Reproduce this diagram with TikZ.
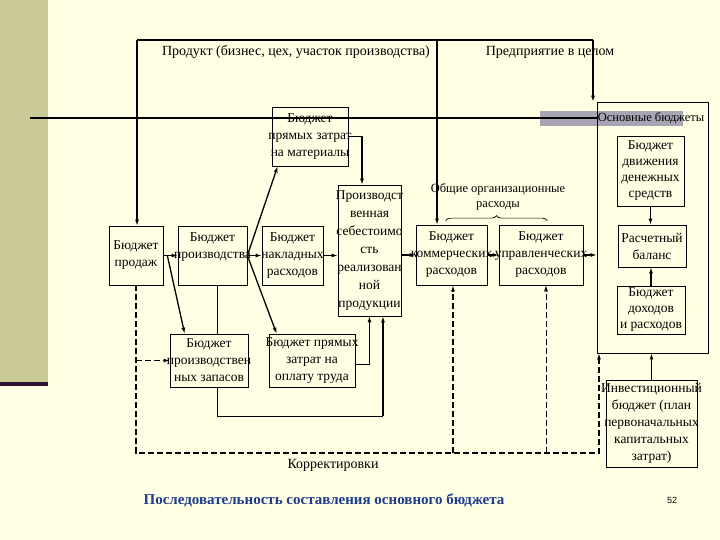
\documentclass[tikz,border=0pt]{standalone}
\usepackage{fontspec}
\setmainfont{Liberation Serif}
\newfontfamily\pagenumfont{Liberation Sans}
\usetikzlibrary{arrows.meta,positioning,calc,decorations.pathreplacing}
\definecolor{cPage}{HTML}{FFFFE3}
\definecolor{cStripe}{HTML}{CACA98}
\definecolor{cStripeEdge}{HTML}{2E1236}
\definecolor{cBar}{HTML}{A8A4B4}
\definecolor{cTitle}{HTML}{1F3B8F}

\begin{document}
\begin{tikzpicture}[
  x=1pt, y=-1pt,
  font=\fontsize{13.5}{17}\selectfont,
  >={Latex[length=6pt,width=4pt]},
  box/.style={draw, line width=0.7pt, align=center, inner ysep=0pt, inner xsep=-6pt},
  flow/.style={->, line width=1.3pt},
  thinflow/.style={->, line width=0.8pt},
  link/.style={line width=0.7pt},
  corr/.style={->, line width=1.5pt, dash pattern=on 6pt off 3pt},
  corrthin/.style={->, line width=0.8pt, dash pattern=on 6pt off 3pt},
  lbl/.style={inner sep=0pt},
]
% ---- slide background ----
\fill[cPage] (0,0) rectangle (720,540);
\useasboundingbox (0,0) rectangle (720,540);
\fill[cStripe] (0,0) rectangle (48,382);
\fill[cStripeEdge] (0,382) rectangle (48,386);

% ---- product level ----
\node[box, minimum width=76pt, minimum height=59pt] (mat) at (310,136.5)
  {Бюджет\\прямых затрат\\на материалы};
\node[box, minimum width=54pt, minimum height=59pt] (sales) at (136,255.5)
  {Бюджет\\продаж};
\node[box, minimum width=69pt, minimum height=59pt] (prod) at (212.5,255.5)
  {Бюджет\\производства\\[2pt]~};
\node[box, minimum width=61pt, minimum height=59pt] (ovh) at (292.5,255.5)
  {Бюджет\\накладных\\расходов};
\node[box, minimum width=63pt, minimum height=131pt, font=\fontsize{13.5}{18}\selectfont] (cost) at (369.5,250.5)
  {Производст\\венная\\себестоимо\\сть\\реализован\\ной\\продукции};
\node[box, minimum width=78pt, minimum height=53pt] (stock) at (209,360.5)
  {Бюджет\\производствен\\ных запасов};
\node[box, minimum width=86pt, minimum height=53pt] (labor) at (312,360.5)
  {Бюджет прямых\\затрат на\\оплату труда};

% ---- enterprise level ----
\node[box, minimum width=71pt, minimum height=60pt] (comm) at (451.5,255)
  {Бюджет\\коммерческих\\расходов};
\node[box, minimum width=84pt, minimum height=60pt] (adm) at (541,255)
  {Бюджет\\управленческих\\расходов};
\node[lbl, align=center, font=\fontsize{12.5}{15}\selectfont] (oh) at (498,197)
  {Общие организационные\\расходы};

% ---- master budgets ----
\fill[cBar] (540,111) rectangle (683,126);
\node[box, minimum width=111pt, minimum height=251pt] (main) at (652.5,227.5) {};
\node[box, minimum width=67pt, minimum height=70pt, font=\fontsize{13.5}{16}\selectfont] (cash) at (650.5,171)
  {Бюджет\\движения\\денежных\\средств};
\node[box, minimum width=68pt, minimum height=42pt] (bal) at (652,246)
  {Расчетный\\баланс};
\node[box, minimum width=68pt, minimum height=48pt, font=\fontsize{13.5}{16}\selectfont] (pl) at (651,310)
  {Бюджет\\доходов\\и расходов};
\node[box, minimum width=91pt, minimum height=87pt, font=\fontsize{13.5}{17}\selectfont] (inv) at (651.5,423.5)
  {Инвестиционный\\бюджет (план\\первоначальных\\капитальных\\затрат)};

% ---- level headings ----
\coordinate (tl) at (137,40);
\coordinate (tm) at (437,40);
\coordinate (tr) at (593,40);
\node[lbl, font=\fontsize{14}{17}\selectfont] (plbl) at (296,52) {Продукт (бизнес, цех, участок производства)};
\node[lbl, font=\fontsize{14}{17}\selectfont] (elbl) at (550,52) {Предприятие в целом};
\draw[line width=1.3pt] (tl) -- (tr);
\draw[flow] (tl) -- (tl |- sales.north);
\draw[flow] (tm) -- (tm |- comm.north);
\draw[flow] (tr) -- (tr |- main.north);

\coordinate (hl) at (30,118);
\draw[line width=1.3pt] (hl) -- (hl -| main.west);
\node[lbl, font=\fontsize{12.5}{14}\selectfont] (mlbl) at (651,118) {Основные бюджеты};

% ---- flows ----
\draw[flow] (sales) -- (prod);
\draw[flow] ($(sales.east)+(4,0)$) -- ($(stock.north west)+(15,0)$);
\draw[flow] (prod.east) -- ($(mat.south west)+(6,0)$);
\draw[flow] (prod) -- (ovh);
\draw[flow] (prod.east) -- ($(labor.north west)+(8,0)$);
\draw[flow] (mat.east) -| ($(cost.north)+(-7.5,0)$);
\draw[flow] (ovh) -- (cost.west |- ovh.east);
\draw[flow] (cost.east |- comm.west) -- (comm);
\draw[flow] (comm) -- (adm);
\draw[flow] (adm.east) -- (adm.east -| main.west);

\draw[link] ($(prod.south)+(4.5,0)$) -- ($(stock.north)+(8,0)$);
\coordinate (loop) at (383,416);
\draw[link] ($(stock.south)+(8,0)$) |- (loop);
\draw[flow] (loop) -- (loop |- cost.south);
\draw[thinflow] ($(labor.east)+(0,3.5)$) -| (cost.south);

\draw[flow] (cash.south) -- (cash.south |- bal.north);
\draw[flow] (pl.north) -- (pl.north |- bal.south);
\draw[flow] (inv.north) -- (inv.north |- main.south);

% ---- corrections (dashed feedback) ----
\coordinate (cb) at (138,453);
\coordinate (cr) at (599,453);
\coordinate (cc) at (453,453);
\coordinate (ca) at (546,453);
\draw[corr] (sales.south) -- (sales.south |- cb) -- (cr) -- (cr |- main.south);
\draw[corr] (sales.south |- stock.west) -- (stock.west);
\draw[corr] (cc) -- (cc |- comm.south);
\draw[corrthin] (ca) -- (ca |- adm.south);
\node[lbl, font=\fontsize{14}{17}\selectfont] (clbl) at (333,465) {Корректировки};

\draw[decorate, decoration={brace, amplitude=5pt}, line width=0.7pt]
  ($(comm.north west)+(30,-4)$) -- ($(adm.north east)+(-36,-4)$);

% ---- caption ----
\node[lbl, font=\fontsize{15}{18}\selectfont\bfseries, text=cTitle] (title) at (324,500)
  {Последовательность составления основного бюджета};
\node[lbl, font=\pagenumfont\fontsize{9}{10}\selectfont] (pnum) at (672,500) {52};
\end{tikzpicture}
\end{document}
